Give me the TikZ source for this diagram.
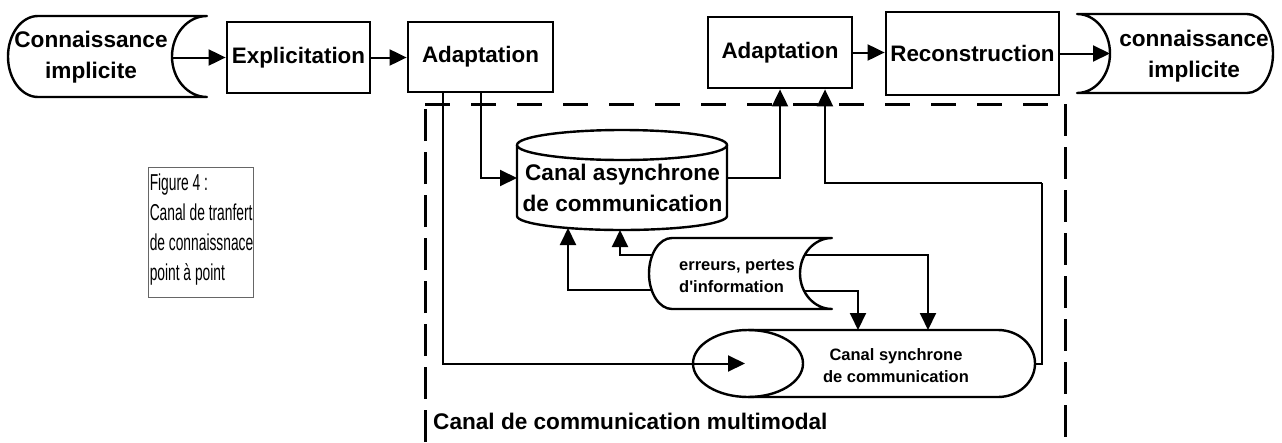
\documentclass[tikz,border=0pt]{standalone}
\usepackage{fontspec}
\setmainfont{Liberation Sans}
\usetikzlibrary{arrows.meta}

\begin{document}
\begin{tikzpicture}[x=1pt,y=1pt,
  big/.style={font=\bfseries\fontsize{22.6}{31}\selectfont, align=center, inner sep=0pt},
  small/.style={font=\bfseries\fontsize{16.5}{22}\selectfont, inner sep=0pt},
  stepbox/.style={draw, line width=2.8pt, inner sep=0pt, font=\bfseries\fontsize{22.4}{31}\selectfont},
  shp/.style={line width=2.4pt, line join=round},
  conn/.style={line width=2pt, -{Triangle[length=17pt,width=16pt]}},
  plain/.style={line width=2pt},
  dashh/.style={line width=3pt, dash pattern=on 25pt off 21pt},
  dashv/.style={line width=3pt, dash pattern=on 32pt off 11pt},
  labelbox/.style={draw=black!60, line width=0.9pt, minimum width=105pt, minimum height=130pt, inner sep=0pt}
]
\useasboundingbox (0,0) rectangle (1282,-442);

% outer multimodal channel frame
\draw[dashv] (425,-442) -- (425,-104);
\draw[dashh] (425,-104) -- (1065,-104);
\draw[dashv] (1065,-104) -- (1065,-442);

% process steps
\node[stepbox, minimum width=143pt, minimum height=71pt] (expl)   at (298.5,-57.5) {Explicitation};
\node[stepbox, minimum width=145pt, minimum height=70pt] (adapt1) at (480.5,-57)   {Adaptation};
\node[stepbox, minimum width=144pt, minimum height=71pt] (adapt2) at (780,-52.5)   {Adaptation};
\node[stepbox, minimum width=173pt, minimum height=83pt] (recon)  at (972.5,-53.5) {Reconstruction};

% source knowledge (stored-data outline)
\draw[shp] (207,-16) -- (38,-16)
  arc[start angle=90,end angle=270,x radius=30pt,y radius=40.5pt] -- (207,-97)
  arc[start angle=270,end angle=90,x radius=35pt,y radius=40.5pt] -- cycle;
\node[big] (src) at (91,-57.5) {Connaissance\\implicite};
\coordinate (srcout) at (172,-57.5);

% target knowledge
\draw[shp] (1077,-14) -- (1247,-14)
  arc[start angle=90,end angle=-90,x radius=26pt,y radius=39.5pt] -- (1077,-93)
  arc[start angle=-90,end angle=90,x radius=33pt,y radius=39.5pt] -- cycle;
\node[big] (dst) at (1194,-56) {connaissance\\implicite};
\coordinate (dstin) at (1110,-53.5);

% asynchronous channel (cylinder)
\draw[shp, fill=white] (517,-145) -- (517,-216)
  arc[start angle=180,end angle=360,x radius=105pt,y radius=14pt] -- (727,-145);
\draw[shp] (622,-145) ellipse[x radius=105pt,y radius=15pt];
\node[big] (async) at (622.5,-188) {Canal asynchrone\\de communication};
\coordinate (asyncW) at (517,-178);
\coordinate (asyncE) at (727,-178);
\coordinate (asyncB1) at (568,-228);
\coordinate (asyncB2) at (620,-230);

% errors / information loss
\draw[shp] (832,-238) -- (672,-238)
  arc[start angle=90,end angle=270,x radius=23pt,y radius=35.5pt] -- (832,-309)
  arc[start angle=270,end angle=90,x radius=32pt,y radius=35.5pt] -- cycle;
\node[small, align=left, anchor=west] (err) at (679,-276) {erreurs, pertes\\d\textquotesingle information};
\coordinate (errL1) at (652,-255);
\coordinate (errL2) at (652,-290);
\coordinate (errR1) at (805,-255);
\coordinate (errR2) at (804,-291);

% synchronous channel (horizontal cylinder)
\draw[shp] (748,-330) -- (998,-330)
  arc[start angle=90,end angle=-90,x radius=37pt,y radius=33.5pt] -- (748,-397);
\draw[shp] (748,-363.5) ellipse[x radius=55pt,y radius=33.5pt];
\node[small, align=center] (sync) at (896,-366) {Canal synchrone\\de communication};
\coordinate (syncIn) at (745,-363.5);
\coordinate (syncE) at (1035,-363.5);
\coordinate (syncT1) at (858,-330);
\coordinate (syncT2) at (928,-330);
\coordinate (ret) at (1042,-183);

% frame caption
\node[big, anchor=base west] (multi) at (433,-429) {Canal de communication multimodal};

% figure caption box
\node[labelbox] (fig) at (200.5,-232) {};
\node[anchor=north west, inner sep=0pt, font=\fontsize{23}{30}\selectfont] (figtxt)
  at ([shift={(2pt,-3pt)}]fig.north west)
  {\scalebox{0.6}[1]{\begin{tabular}{@{}l@{}}Figure 4 :\\Canal de tranfert\\de connaissnace\\point à point\end{tabular}}};

% main chain
\draw[conn] (srcout) -- (expl.west);
\draw[conn] (expl.east) -- (expl.east -| adapt1.west);
\draw[conn] (adapt2.east) -- (adapt2.east -| recon.west);
\draw[conn] (recon.east) -- (recon.east -| dstin);

% channel links
\draw[conn] (adapt1.south) |- (asyncW);
\draw[conn] (asyncE) -| (adapt2.south);
\draw[conn] ([xshift=-37.5pt]adapt1.south) |- (syncIn);
\draw[plain] (syncE) -| (ret);
\draw[conn] (ret) -| ([xshift=45pt]adapt2.south);
\draw[conn] (errL1) -| (asyncB2);
\draw[conn] (errL2) -| (asyncB1);
\draw[conn] (errR1) -| (syncT2);
\draw[conn] (errR2) -| (syncT1);
\end{tikzpicture}
\end{document}
